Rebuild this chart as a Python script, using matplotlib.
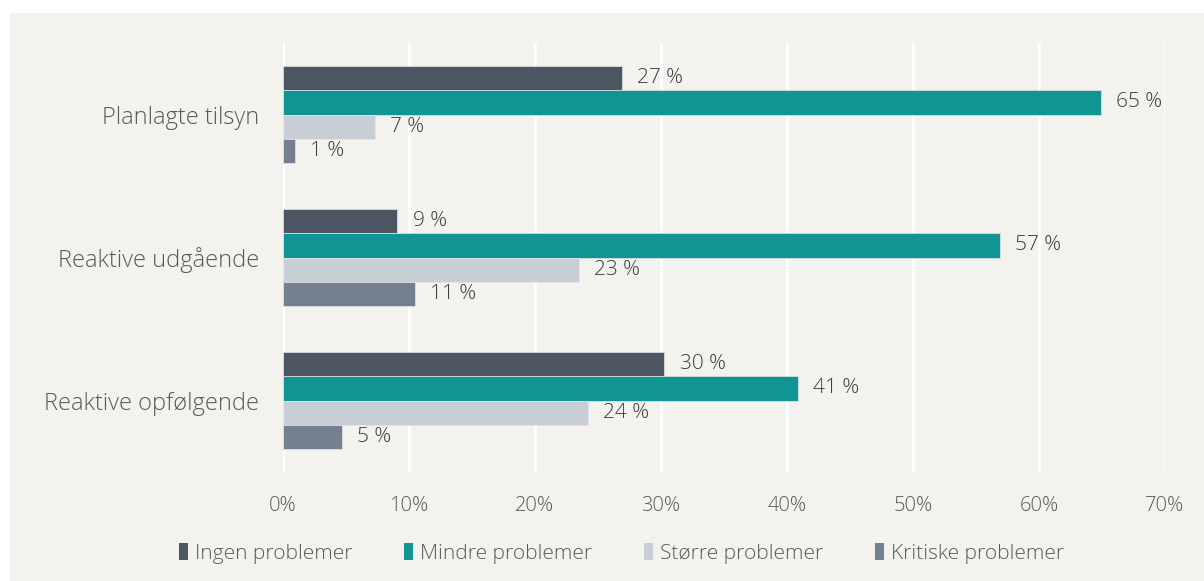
import numpy as np
import matplotlib.pyplot as plt
from matplotlib.patches import Patch, Rectangle

plt.rcParams["font.family"] = ["Open Sans", "DejaVu Sans"]
plt.rcParams["font.weight"] = "light"

categories = ["Planlagte tilsyn", "Reaktive udgående", "Reaktive opfølgende"]
series = ["Ingen problemer", "Mindre problemer", "Større problemer", "Kritiske problemer"]
ingen = [26.9, 9.1, 30.3]
mindre = [64.9, 56.9, 40.9]
stoerre = [7.3, 23.5, 24.2]
kritiske = [1.0, 10.5, 4.7]
labels = [
    ["27 %", "9 %", "30 %"],
    ["65 %", "57 %", "41 %"],
    ["7 %", "23 %", "24 %"],
    ["1 %", "11 %", "5 %"],
]
colors = ["#4d5663", "#109594", "#c9ced6", "#747f90"]

BG = "#f3f2ee"
TXT = "#595959"

fig = plt.figure(figsize=(12.04, 5.81), dpi=100)
fig.patch.set_facecolor("white")
fig.add_artist(Rectangle((10 / 1204, 0), 1 - 10 / 1204, 1 - 13 / 581,
                         transform=fig.transFigure, facecolor=BG,
                         edgecolor="none", zorder=-10))

ax = fig.add_axes([282.5 / 1204, 1 - 472 / 581, (1165 - 282.5) / 1204, 429 / 581])
ax.set_facecolor(BG)
ax.patch.set_alpha(0)

y = np.arange(len(categories))
h = 0.171
values = [ingen, mindre, stoerre, kritiske]
for i, (vals, col) in enumerate(zip(values, colors)):
    pos = y - 1.5 * h + i * h
    bars = ax.barh(pos, vals, height=h, color=col, edgecolor="#e6e6e6",
                   linewidth=0.5, zorder=3)
    for b, lab in zip(bars, labels[i]):
        ax.annotate(lab, (b.get_width(), b.get_y() + b.get_height() / 2),
                    xytext=(11, 0), textcoords="offset points",
                    ha="left", va="center", fontsize=15, color="#3c3c3c")

ax.set_xlim(0, 70)
ax.set_ylim(2.5, -0.5)
ax.set_xticks(np.arange(0, 71, 10))
ax.set_xticklabels([f"{t}%" for t in range(0, 71, 10)])
ax.set_yticks(y)
ax.set_yticklabels(categories)
ax.tick_params(axis="x", length=0, pad=17, labelsize=14.5, colors=TXT)
ax.tick_params(axis="y", length=0, pad=17, labelsize=17, colors=TXT)
ax.grid(axis="x", color="white", linewidth=2, zorder=0)
for s in ax.spines.values():
    s.set_visible(False)

handles = [Patch(facecolor=c, edgecolor="none") for c in colors]
fig.legend(handles, series, loc="center", bbox_to_anchor=(0.516, 0.048),
           ncol=4, frameon=False, fontsize=15, labelcolor=TXT,
           handlelength=0.45, handleheight=0.9, handletextpad=0.3,
           columnspacing=2.5)

fig.savefig("out.png", dpi=100, facecolor=fig.get_facecolor())
